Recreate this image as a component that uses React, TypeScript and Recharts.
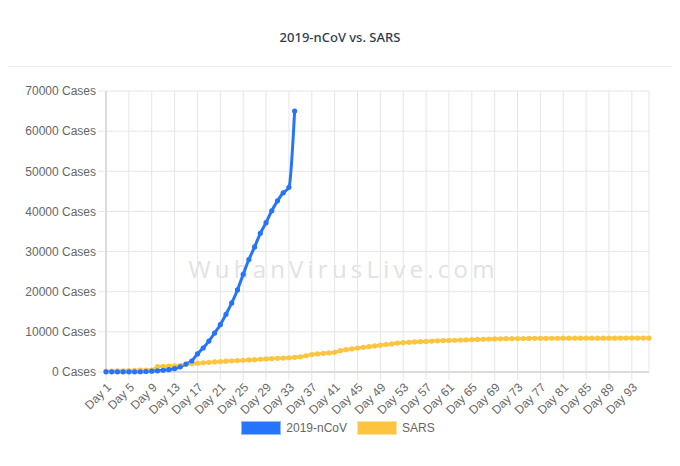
import { CartesianGrid, Line, LineChart, XAxis, YAxis } from "recharts";

// x categories: Day 1 .. Day 96
const dayLabels: string[] = Array.from({ length: 96 }, (_, i) => `Day ${i + 1}`);

const ncovCases: number[] = [
  41, 41, 41, 41, 41, 45, 62, 121, 198, 291, 440, 571, 830, 1287, 1975, 2744, 4515, 5974, 7711, 9692,
  11791, 14380, 17205, 20438, 24324, 28018, 31161, 34546, 37198, 40171, 42638, 44653, 46000, 65000,
];

const sarsCases: number[] = [
  200, 220, 260, 300, 350, 390, 450, 480, 500, 1320, 1400, 1480, 1550, 1620, 1950, 2100, 2200, 2300, 2400, 2500,
  2600, 2700, 2780, 2850, 2930, 3000, 3080, 3170, 3250, 3330, 3400, 3480, 3550, 3650, 3800, 4050, 4350, 4500, 4650, 4750,
  4900, 5300, 5550, 5750, 5950, 6150, 6300, 6500, 6680, 6830, 7000, 7200, 7300, 7400, 7480, 7550, 7620, 7700, 7760, 7820,
  7870, 7910, 7960, 8000, 8060, 8120, 8160, 8200, 8230, 8260, 8290, 8310, 8330, 8350, 8365, 8380, 8390, 8400, 8405, 8410,
  8415, 8420, 8422, 8425, 8427, 8430, 8432, 8435, 8437, 8437, 8440, 8442, 8445, 8445, 8447, 8450,
];

const yTicks = [0, 10000, 20000, 30000, 40000, 50000, 60000, 70000];

const BLUE = "#2574fb";
const YELLOW = "#fdc53f";
const GRID = "#e6e6e6";
const AXIS = "#c4c4c4";
const FONT = "'Liberation Sans', Arial, Helvetica, sans-serif";

const data = dayLabels.map((day, i) => ({
  day,
  ncov: i < ncovCases.length ? ncovCases[i] : null,
  sars: sarsCases[i],
}));

function LegendItem({ color, label }: { color: string; label: string }) {
  return (
    <div style={{ display: "flex", alignItems: "center", marginRight: 10 }}>
      <span
        style={{
          display: "inline-block",
          width: 40,
          height: 14,
          background: color,
          boxSizing: "border-box",
          border: "1px solid rgba(255,255,255,0.5)",
          marginRight: 5,
        }}
      />
      <span style={{ fontSize: 12, color: "#666", fontFamily: FONT }}>{label}</span>
    </div>
  );
}

export default function App() {
  return (
    <div style={{ position: "relative", width: 680, height: 466, margin: -8, background: "#eff0f2", overflow: "hidden" }}>
      <div
        style={{
          position: "absolute",
          left: 5,
          top: 5,
          width: 670,
          height: 456,
          background: "#fff",
          borderRadius: 4,
          boxShadow: "0 1px 3px rgba(0,0,0,0.08)",
        }}
      />
      <div
        style={{
          position: "absolute",
          left: 5,
          top: 28,
          width: 670,
          textAlign: "center",
          fontFamily: "'Noto Sans', sans-serif",
          fontSize: 13,
          fontWeight: 500,
          color: "#2e3b4e",
        }}
      >
        2019-nCoV vs. SARS
      </div>
      <div style={{ position: "absolute", left: 5, top: 66, width: 670, height: 1, background: "#ececec" }} />
      <div
        style={{
          position: "absolute",
          left: 72,
          top: 252,
          width: 543,
          textAlign: "center",
          fontFamily: "'Open Sans', sans-serif",
          fontSize: 24,
          letterSpacing: 4.2,
          color: "#e2e2e2",
        }}
      >
        WuhanVirusLive.com
      </div>
      <div style={{ position: "absolute", left: 0, top: 0 }}>
        <LineChart width={680} height={466} data={data} margin={{ top: 91, right: 31, left: 0, bottom: 34 }}>
          <CartesianGrid stroke={GRID} />
          <XAxis
            dataKey="day"
            interval={3}
            height={60}
            axisLine={{ stroke: AXIS }}
            tickLine={{ stroke: GRID }}
            tickSize={8}
            tickMargin={2}
            tick={{ angle: -45, textAnchor: "end", fontSize: 12, fill: "#666", fontFamily: FONT }}
          />
          <YAxis
            width={106}
            domain={[0, 70000]}
            ticks={yTicks}
            axisLine={{ stroke: AXIS }}
            tickLine={{ stroke: GRID }}
            tickSize={8}
            tickMargin={2}
            tickFormatter={(v: number) => `${v} Cases`}
            tick={{ fontSize: 12, fill: "#666", fontFamily: FONT }}
          />
          <Line
            type="monotone"
            dataKey="sars"
            stroke={YELLOW}
            strokeWidth={3}
            dot={{ r: 2.6, fill: YELLOW, stroke: YELLOW, strokeWidth: 0 }}
            isAnimationActive={false}
          />
          <Line
            type="monotone"
            dataKey="ncov"
            stroke={BLUE}
            strokeWidth={3}
            dot={{ r: 2.6, fill: BLUE, stroke: BLUE, strokeWidth: 0 }}
            isAnimationActive={false}
          />
        </LineChart>
      </div>
      <div
        style={{
          position: "absolute",
          left: 0,
          top: 421,
          width: 680,
          display: "flex",
          justifyContent: "center",
          paddingLeft: 6,
          boxSizing: "border-box",
        }}
      >
        <LegendItem color={BLUE} label="2019-nCoV" />
        <LegendItem color={YELLOW} label="SARS" />
      </div>
    </div>
  );
}
